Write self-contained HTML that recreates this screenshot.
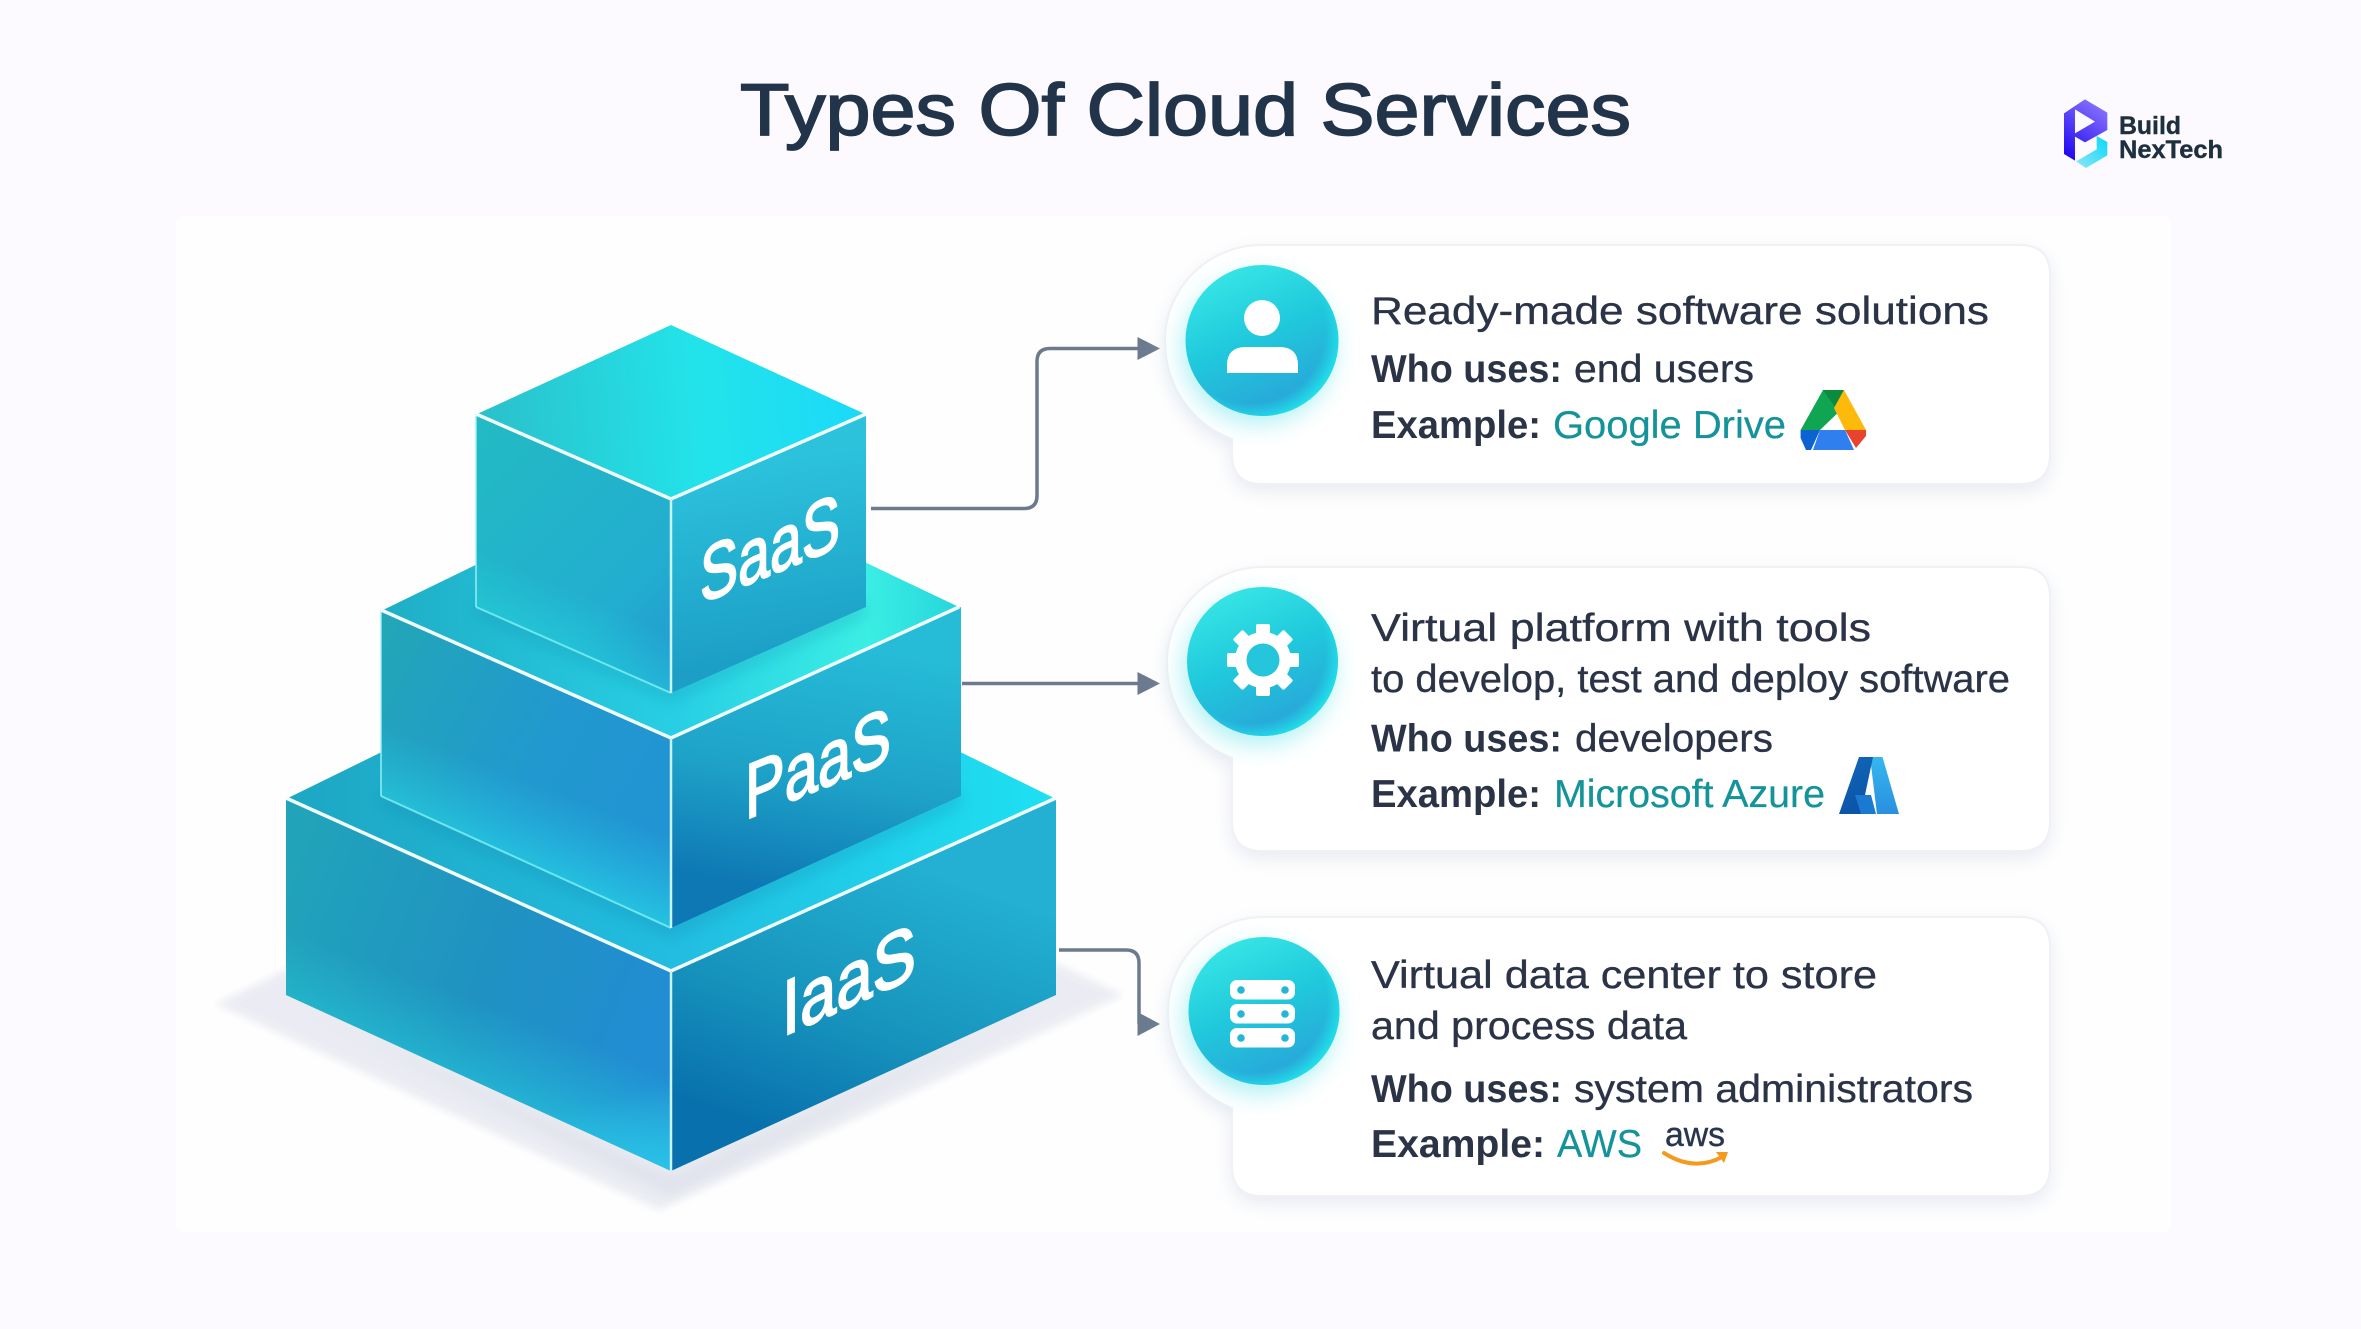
<!DOCTYPE html>
<html><head><meta charset="utf-8"><title>Types Of Cloud Services</title>
<style>html,body{margin:0;padding:0;background:#fcfaff}svg{display:block}
text{font-family:"Liberation Sans",sans-serif}
.b{font-weight:700;fill:#2b3346}.r{fill:#2b3346;stroke:#2b3346;stroke-width:.35}.t{fill:#15939b;stroke:#15939b;stroke-width:.25}</style></head>
<body>
<svg width="2361" height="1329" viewBox="0 0 2361 1329" xmlns="http://www.w3.org/2000/svg">
<defs>
<filter id="bl30" x="-30%" y="-30%" width="160%" height="160%"><feGaussianBlur stdDeviation="12"/></filter>
<filter id="bl10" x="-30%" y="-30%" width="160%" height="160%"><feGaussianBlur stdDeviation="4"/></filter>
<filter id="bl5" x="-30%" y="-30%" width="160%" height="160%"><feGaussianBlur stdDeviation="7"/></filter>
<filter id="card" x="-10%" y="-15%" width="120%" height="135%"><feDropShadow dx="0" dy="7" stdDeviation="9" flood-color="#c9d0e4" flood-opacity=".42"/></filter>

<linearGradient id="sT" gradientUnits="userSpaceOnUse" x1="500" y1="430" x2="860" y2="400"><stop offset="0" stop-color="#2ac3cd"/><stop offset=".55" stop-color="#23e3ea"/><stop offset="1" stop-color="#1bdaf8"/></linearGradient>
<linearGradient id="sL" gradientUnits="userSpaceOnUse" x1="477" y1="430" x2="700" y2="650"><stop offset="0" stop-color="#22bac4"/><stop offset=".7" stop-color="#22aed0"/><stop offset="1" stop-color="#2299d0"/></linearGradient>
<linearGradient id="sLo" gradientUnits="userSpaceOnUse" x1="530" y1="655" x2="560" y2="585"><stop offset="0" stop-color="#25dfe0" stop-opacity=".55"/><stop offset="1" stop-color="#25dfe0" stop-opacity="0"/></linearGradient>
<linearGradient id="sR" gradientUnits="userSpaceOnUse" x1="760" y1="460" x2="790" y2="660"><stop offset="0" stop-color="#2cc2dc"/><stop offset="1" stop-color="#1c9ec6"/></linearGradient>

<linearGradient id="pT" gradientUnits="userSpaceOnUse" x1="400" y1="620" x2="950" y2="610"><stop offset="0" stop-color="#1fb0c8"/><stop offset=".5" stop-color="#28cfe4"/><stop offset=".85" stop-color="#3aeee4"/><stop offset="1" stop-color="#28d8dc"/></linearGradient>
<linearGradient id="pL" gradientUnits="userSpaceOnUse" x1="381" y1="640" x2="671" y2="800"><stop offset="0" stop-color="#22a6b8"/><stop offset=".6" stop-color="#2198cf"/><stop offset="1" stop-color="#2194d3"/></linearGradient>
<linearGradient id="pLo" gradientUnits="userSpaceOnUse" x1="520" y1="880" x2="555" y2="790"><stop offset="0" stop-color="#27e0e8" stop-opacity=".7"/><stop offset="1" stop-color="#27d0e8" stop-opacity="0"/></linearGradient>
<linearGradient id="pR" gradientUnits="userSpaceOnUse" x1="830" y1="640" x2="790" y2="890"><stop offset="0" stop-color="#26bcd8"/><stop offset=".55" stop-color="#1ea2c8"/><stop offset="1" stop-color="#0e78b4"/></linearGradient>

<linearGradient id="iT" gradientUnits="userSpaceOnUse" x1="300" y1="800" x2="1050" y2="800"><stop offset="0" stop-color="#1da8c4"/><stop offset=".5" stop-color="#22bde0"/><stop offset="1" stop-color="#1ee0f2"/></linearGradient>
<linearGradient id="iL" gradientUnits="userSpaceOnUse" x1="288" y1="850" x2="671" y2="1000"><stop offset="0" stop-color="#21a4ba"/><stop offset=".55" stop-color="#1f92c2"/><stop offset="1" stop-color="#218dd3"/></linearGradient>
<linearGradient id="iLo" gradientUnits="userSpaceOnUse" x1="460" y1="1130" x2="505" y2="1010"><stop offset="0" stop-color="#27d8e0" stop-opacity=".8"/><stop offset="1" stop-color="#27c8d8" stop-opacity="0"/></linearGradient>
<linearGradient id="iLx" gradientUnits="userSpaceOnUse" x1="660" y1="1170" x2="640" y2="1090"><stop offset="0" stop-color="#2cc6ee" stop-opacity=".7"/><stop offset="1" stop-color="#2cc6ee" stop-opacity="0"/></linearGradient>
<linearGradient id="iR" gradientUnits="userSpaceOnUse" x1="900" y1="860" x2="800" y2="1140"><stop offset="0" stop-color="#23b0d2"/><stop offset=".55" stop-color="#1794bd"/><stop offset="1" stop-color="#0871ad"/></linearGradient>

<linearGradient id="ic" x1=".3" y1="0" x2=".75" y2="1"><stop offset="0" stop-color="#37e6e6"/><stop offset=".45" stop-color="#20c9dc"/><stop offset="1" stop-color="#2a9ed8"/></linearGradient>
<radialGradient id="icr" cx=".42" cy=".42" r=".62"><stop offset=".8" stop-color="#1ef0ee" stop-opacity="0"/><stop offset="1" stop-color="#1ef0ee" stop-opacity=".85"/></radialGradient>
<linearGradient id="lgP" gradientUnits="userSpaceOnUse" x1="102" y1="240" x2="232" y2="70"><stop offset="0" stop-color="#1800ee"/><stop offset="1" stop-color="#8f7bff"/></linearGradient>
<linearGradient id="lgC" x1="0" y1="1" x2="1" y2="0"><stop offset="0" stop-color="#8ee6f8"/><stop offset="1" stop-color="#08d8f8"/></linearGradient>
<linearGradient id="az1" x1="0" y1="0" x2=".3" y2="1"><stop offset="0" stop-color="#1267b8"/><stop offset="1" stop-color="#0b55a8"/></linearGradient>
<linearGradient id="az2" x1="0" y1="0" x2="0" y2="1"><stop offset="0" stop-color="#35b8ee"/><stop offset="1" stop-color="#2a8fe0"/></linearGradient>
</defs>

<rect width="2361" height="1329" fill="#fcfaff"/>
<rect x="176" y="216" width="1995" height="1016" rx="8" fill="#fefefe"/>

<text x="740" y="135" font-size="73" fill="#22344a" stroke="#22344a" stroke-width="1.7" textLength="891" lengthAdjust="spacingAndGlyphs">Types Of Cloud Services</text>

<!-- logo -->
<g transform="translate(2030,80) scale(.3333)">
<polygon points="102,100 135,78 135,242 102,222" fill="url(#lgP)"/>
<polygon points="135,78 165,58 232,98 232,150 165,187 135,170 135,160 195,125 135,88" fill="url(#lgP)"/>
<polygon points="200,168 232,186 232,226 168,264 138,244 200,208" fill="url(#lgC)"/>
</g>
<text x="2119" y="134" font-size="25" font-weight="700" fill="#1e3040" stroke="#1e3040" stroke-width=".4" textLength="62" lengthAdjust="spacingAndGlyphs">Build</text>
<text x="2119" y="158" font-size="25" font-weight="700" fill="#1e3040" stroke="#1e3040" stroke-width=".4" textLength="104" lengthAdjust="spacingAndGlyphs">NexTech</text>

<!-- ground shadow -->
<polygon points="216,1004 671,780 1123,995 659,1210" fill="#e9ebf2" opacity=".9" filter="url(#bl10)"/>
<polygon points="286,1000 671,1178 1056,1000 671,1195" fill="#c9d0de" opacity=".4" filter="url(#bl5)"/>

<!-- IaaS -->
<polygon points="288,798 671,610 1054,798 671,971" fill="url(#iT)"/>
<polygon points="286,798 671,971 671,1171 286,995" fill="url(#iL)"/>
<polygon points="286,798 671,971 671,1171 286,995" fill="url(#iLo)"/>
<polygon points="286,798 671,971 671,1171 286,995" fill="url(#iLx)"/>
<polygon points="671,971 1056,798 1056,995 671,1171" fill="url(#iR)"/>
<polyline points="286,798 671,971 1056,798" fill="none" stroke="#f2fdff" stroke-width="3.500"/>
<line x1="671" y1="971" x2="671" y2="1171" stroke="#c8f4fa" stroke-width="2.500"/>

<!-- shadow of PaaS on IaaS -->
<polygon points="381,790 671,922 961,790 961,806 671,938 381,806" fill="#0b7ea8" opacity=".25" filter="url(#bl5)"/>

<!-- PaaS -->
<polygon points="383,610 671,470 959,607 671,738" fill="url(#pT)"/>
<polygon points="381,610 671,738 671,928 381,796" fill="url(#pL)"/>
<polygon points="381,610 671,738 671,928 381,796" fill="url(#pLo)"/>
<polygon points="671,738 961,607 961,796 671,928" fill="url(#pR)"/>
<polyline points="381,796 671,928" fill="none" stroke="#7ff2f6" stroke-width="2" opacity=".8"/>
<line x1="381" y1="610" x2="381" y2="796" stroke="#9af4f6" stroke-width="2" opacity=".7"/>
<polyline points="381,610 671,738 959,607" fill="none" stroke="#f2fdff" stroke-width="3.500"/>
<line x1="671" y1="738" x2="671" y2="928" stroke="#c8f4fa" stroke-width="2.500"/>

<!-- shadow of SaaS on PaaS -->
<polygon points="475,601 671,687 866,601 866,616 671,702 475,616" fill="#0b86a8" opacity=".25" filter="url(#bl5)"/>

<!-- SaaS -->
<polygon points="477,414 671,325 865,414 671,499" fill="url(#sT)"/>
<polygon points="476,414 671,499 671,693 476,607" fill="url(#sL)"/>
<polygon points="476,414 671,499 671,693 476,607" fill="url(#sLo)"/>
<polygon points="671,499 866,414 866,607 671,693" fill="url(#sR)"/>
<polyline points="476,607 671,693" fill="none" stroke="#7ff2f6" stroke-width="2" opacity=".8"/>
<line x1="476" y1="414" x2="476" y2="607" stroke="#9af4f6" stroke-width="2" opacity=".7"/>
<polyline points="476,414 671,499 866,414" fill="none" stroke="#f2fdff" stroke-width="3.500"/>
<line x1="671" y1="499" x2="671" y2="693" stroke="#c8f4fa" stroke-width="2.500"/>

<!-- Cube labels -->
<text transform="matrix(1,-.41,0,1,700,604)" font-size="78" fill="#fff" stroke="#fff" stroke-width="2" textLength="140" lengthAdjust="spacingAndGlyphs">SaaS</text>
<text transform="matrix(1,-.41,0,1,745,820)" font-size="78" fill="#fff" stroke="#fff" stroke-width="2" textLength="146" lengthAdjust="spacingAndGlyphs">PaaS</text>
<text transform="matrix(1,-.45,0,1,782,1037)" font-size="78" fill="#fff" stroke="#fff" stroke-width="2" textLength="134" lengthAdjust="spacingAndGlyphs">IaaS</text>

<!-- connectors -->
<g fill="none" stroke="#6c7a90" stroke-width="3.500">
<path d="M871 508.500H1024Q1037 508.500 1037 495.500V361.500Q1037 348.500 1050 348.500H1140"/>
<path d="M962 683.500H1140"/>
<path d="M1059 950H1126Q1139 950 1139 963V1024"/>
</g>
<g fill="#6c7a90">
<polygon points="1137.500,337 1160,348.500 1137.500,360"/>
<polygon points="1137.500,672 1160,683.500 1137.500,695"/>
<polygon points="1137.500,1012 1160,1024 1137.500,1036"/>
</g>

<!-- Cards -->
<g fill="#fff" stroke="#f0f0f5" stroke-width="2" filter="url(#card)">
<path d="M1262 245H2020Q2050 245 2050 275V454Q2050 484 2020 484H1262Q1232 484 1232 454V439C1193 425 1165 387 1165 341C1165 288 1208 245 1262 245Z"/>
<path d="M1263 567H2020Q2050 567 2050 597V821Q2050 851 2020 851H1262Q1232 851 1232 821V758C1194 744 1167 707 1167 662C1167 609 1210 567 1263 567Z"/>
<path d="M1264 917H2020Q2050 917 2050 947V1166Q2050 1196 2020 1196H1262Q1232 1196 1232 1166V1108C1195 1094 1168 1057 1168 1012C1168 959 1211 917 1264 917Z"/>
</g>

<!-- Icon circles -->
<g>
<ellipse cx="1258" cy="350" rx="76" ry="74" fill="#4fe0e8" opacity=".45" filter="url(#bl30)"/>
<ellipse cx="1262" cy="340.500" rx="76.500" ry="75.500" fill="url(#ic)"/>
<ellipse cx="1262" cy="340.500" rx="76.500" ry="75.500" fill="url(#icr)"/>

<ellipse cx="1258.500" cy="671" rx="76" ry="74" fill="#4fe0e8" opacity=".45" filter="url(#bl30)"/>
<ellipse cx="1262.500" cy="661.500" rx="75.500" ry="74.500" fill="url(#ic)"/>
<ellipse cx="1262.500" cy="661.500" rx="75.500" ry="74.500" fill="url(#icr)"/>

<ellipse cx="1260" cy="1020" rx="76" ry="74" fill="#4fe0e8" opacity=".45" filter="url(#bl30)"/>
<ellipse cx="1264" cy="1011" rx="75.500" ry="74" fill="url(#ic)"/>
<ellipse cx="1264" cy="1011" rx="75.500" ry="74" fill="url(#icr)"/>
</g>

<!-- person -->
<ellipse cx="1262" cy="318" rx="18" ry="18" fill="#fff"/>
<path d="M1227 373V365Q1227 347 1246 347H1279Q1298 347 1298 365V373Z" fill="#fff"/>

<!-- gear -->
<g transform="translate(1263,660)" fill="#fff">
<rect x="-7" y="-36" width="14" height="72" rx="2"/>
<rect x="-7" y="-36" width="14" height="72" rx="2" transform="rotate(45)"/>
<rect x="-7" y="-36" width="14" height="72" rx="2" transform="rotate(90)"/>
<rect x="-7" y="-36" width="14" height="72" rx="2" transform="rotate(135)"/>
<circle r="28"/>
<circle r="16.500" fill="#25c6dc"/>
</g>

<!-- server -->
<g fill="#fff">
<rect x="1230" y="980" width="65" height="19.500" rx="7"/>
<rect x="1230" y="1004" width="65" height="19.500" rx="7"/>
<rect x="1230" y="1028" width="65" height="19.500" rx="7"/>
</g>
<g fill="#24b6d4">
<circle cx="1241" cy="990" r="3.800"/><circle cx="1285" cy="990" r="3.800"/>
<circle cx="1241" cy="1014" r="3.800"/><circle cx="1285" cy="1014" r="3.800"/>
<circle cx="1241" cy="1038" r="3.800"/><circle cx="1285" cy="1038" r="3.800"/>
</g>

<!-- Card text -->
<g font-size="39">
<text class="r" x="1371" y="324" textLength="618" lengthAdjust="spacingAndGlyphs">Ready-made software solutions</text>
<text class="b" x="1371" y="382" textLength="191" lengthAdjust="spacingAndGlyphs">Who uses:</text>
<text class="r" x="1574" y="382" textLength="180" lengthAdjust="spacingAndGlyphs">end users</text>
<text class="b" x="1371" y="438" textLength="170" lengthAdjust="spacingAndGlyphs">Example:</text>
<text class="t" x="1553" y="438" textLength="233" lengthAdjust="spacingAndGlyphs">Google Drive</text>

<text class="r" x="1371" y="641" textLength="500" lengthAdjust="spacingAndGlyphs">Virtual platform with tools</text>
<text class="r" x="1371" y="692" textLength="639" lengthAdjust="spacingAndGlyphs">to develop, test and deploy software</text>
<text class="b" x="1371" y="751.500" textLength="191" lengthAdjust="spacingAndGlyphs">Who uses:</text>
<text class="r" x="1575" y="751.500" textLength="198" lengthAdjust="spacingAndGlyphs">developers</text>
<text class="b" x="1371" y="807" textLength="170" lengthAdjust="spacingAndGlyphs">Example:</text>
<text class="t" x="1554" y="807" textLength="271" lengthAdjust="spacingAndGlyphs">Microsoft Azure</text>

<text class="r" x="1371" y="988" textLength="506" lengthAdjust="spacingAndGlyphs">Virtual data center to store</text>
<text class="r" x="1371" y="1039" textLength="316" lengthAdjust="spacingAndGlyphs">and process data</text>
<text class="b" x="1371" y="1102" textLength="191" lengthAdjust="spacingAndGlyphs">Who uses:</text>
<text class="r" x="1574" y="1102" textLength="399" lengthAdjust="spacingAndGlyphs">system administrators</text>
<text class="b" x="1371" y="1157" textLength="174" lengthAdjust="spacingAndGlyphs">Example:</text>
<text class="t" x="1557" y="1157" textLength="85" lengthAdjust="spacingAndGlyphs">AWS</text>
</g>

<!-- Drive -->
<polygon points="1823,390 1836,390 1846,405 1820,430 1800.600,430" fill="#0fa552"/>
<polygon points="1823,390 1844,390 1835,407" fill="#0c8a3e"/>
<polygon points="1844,390 1866,430 1845,430 1834,408" fill="#fdba0a"/>
<polygon points="1820,430 1845,430 1854,450 1813,450" fill="#2f7fee"/>
<polygon points="1800.600,430 1820,430 1811,450 1806,450 1800.600,438" fill="#0b62d0"/>
<polygon points="1845,430 1866,430 1866,436 1856,448" fill="#e8432e"/>

<!-- Azure -->
<polygon points="1870,757 1882.500,757 1899,814 1877,814" fill="url(#az2)"/>
<polygon points="1859,757 1873,757 1861,814 1839,814" fill="url(#az1)"/>
<polygon points="1855,795 1871,795 1876,814 1861,814" fill="#1a79d0"/>

<!-- AWS -->
<text x="1665" y="1146" font-size="34" fill="#2a3550" stroke="#2a3550" stroke-width=".4" textLength="60" lengthAdjust="spacingAndGlyphs">aws</text>
<path d="M1664 1153Q1694 1172 1722 1157" fill="none" stroke="#f59a1e" stroke-width="4" stroke-linecap="round"/>
<path d="M1716 1152L1728 1152L1724 1163Z" fill="#f59a1e"/>
</svg>
</body></html>
